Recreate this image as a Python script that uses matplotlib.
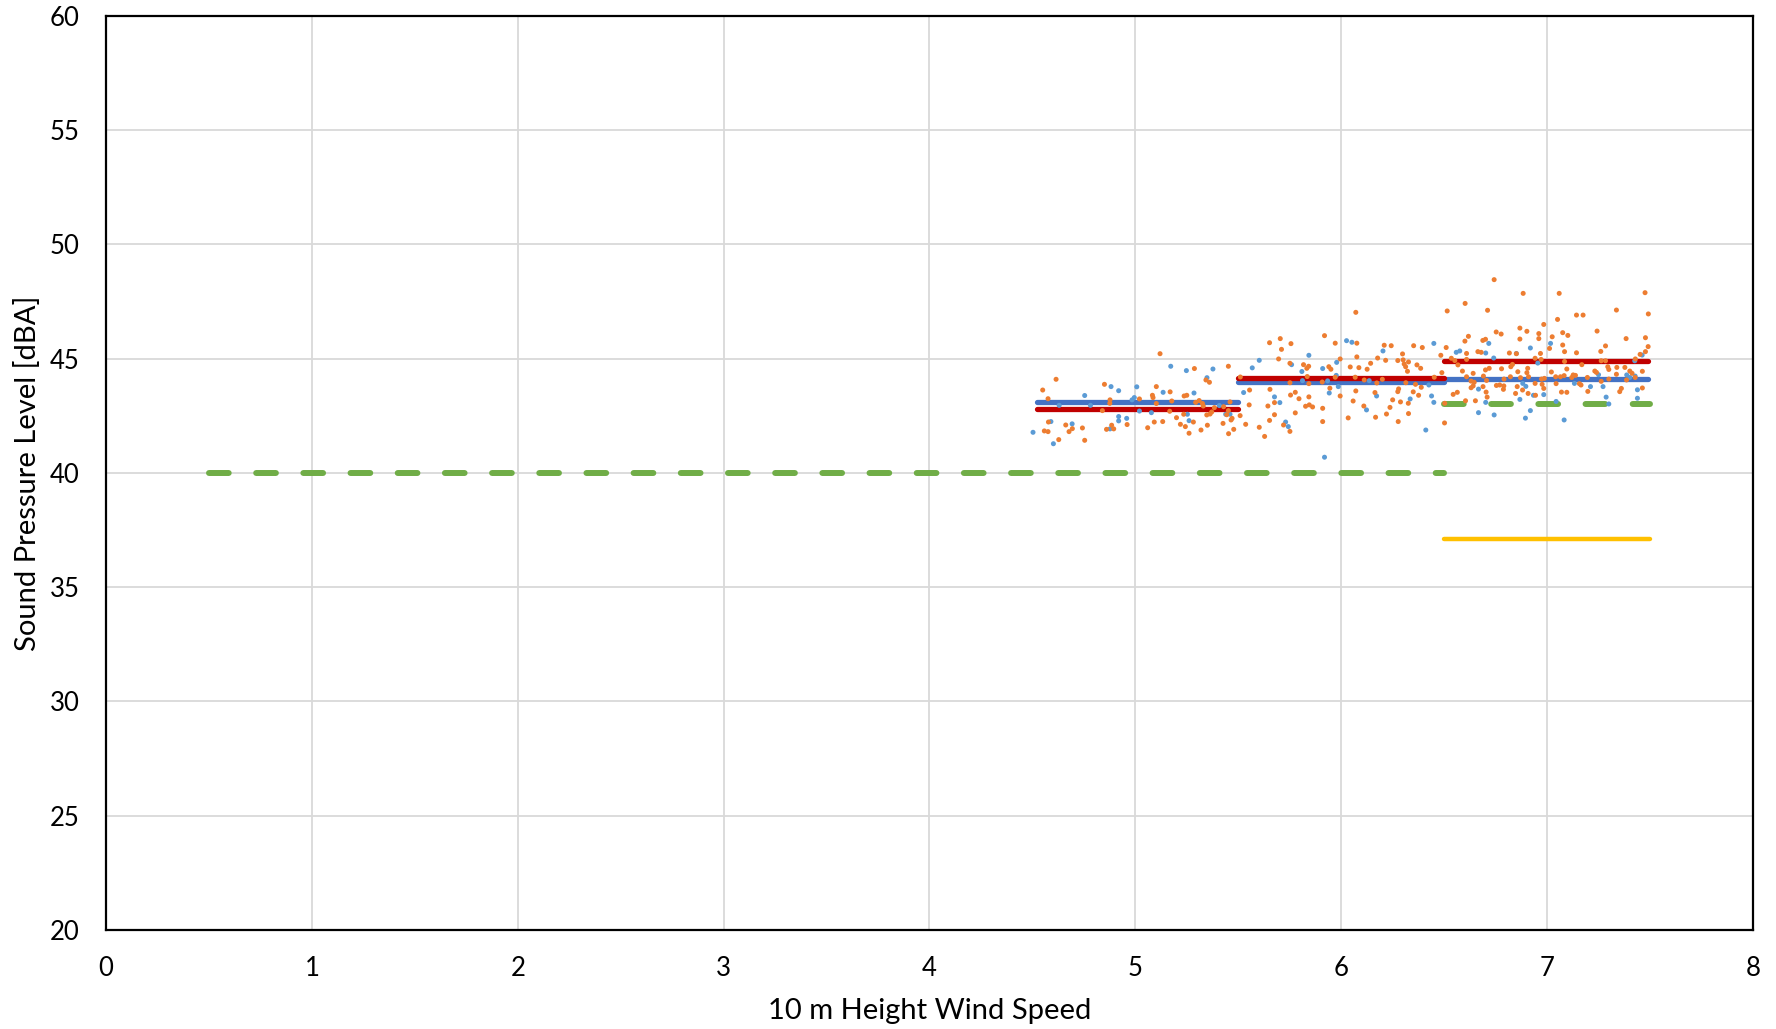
import matplotlib.pyplot as plt

blue_x = [4.503, 4.59, 4.602, 4.63, 4.693, 4.754, 4.782, 4.882, 4.919, 4.919, 4.919, 4.958, 4.877, 4.984,
          4.995, 5.007, 5.02, 5.078, 5.135, 5.172, 5.248, 5.285, 5.253, 5.261, 5.348, 5.377, 5.408, 5.439,
          5.46, 5.526,
          5.568, 5.602, 5.676, 5.702, 5.73, 5.743, 5.759, 5.809, 5.812, 5.843, 5.91, 5.934, 5.942, 5.976,
          5.978, 5.986, 6.026, 6.052, 6.123, 6.136, 6.172, 6.203, 6.335, 6.411, 6.426, 6.439, 6.45, 6.45,
          6.559, 5.919,
          6.576, 6.702, 6.717, 6.741, 6.851, 6.919, 6.955, 7.017, 6.667, 6.702, 6.667, 6.743, 6.868, 6.895,
          6.919, 6.934, 6.984, 6.882, 6.897, 7.044, 7.083, 7.133, 7.211, 7.25, 7.272, 7.287, 7.3, 7.426,
          7.462, 7.387, 7.402, 7.428, 7.439, 7.439]
blue_y = [41.78, 42.25, 41.28, 42.96, 42.15, 43.39, 42.96, 43.78, 43.6, 42.47, 42.28, 42.39, 41.93, 43.2,
          43.3, 43.77, 42.71, 42.64, 43.53, 44.67, 44.48, 43.5, 42.57, 42.29, 44.17, 44.55, 42.95, 42.57,
          42.57, 43.52,
          44.6, 44.93, 43.33, 43.08, 42.23, 42.03, 44.74, 44.44, 44.04, 45.15, 44.57, 44.03, 43.5, 44.27,
          44.84, 43.78, 45.79, 45.72, 42.76, 44.04, 43.37, 45.34, 43.24, 41.88, 43.85, 43.37, 43.09, 45.67,
          45.28, 40.69,
          45.34, 45.25, 45.67, 45.03, 45.23, 45.47, 44.81, 45.67, 43.67, 43.09, 42.64, 42.54, 43.22, 42.4,
          42.73, 43.4, 43.43, 43.92, 43.79, 43.13, 42.32, 43.92, 43.78, 44.3, 43.78, 43.32, 43.02, 44.91,
          45.16, 44.29, 44.18, 44.24, 43.64, 43.27]

orange_x = [5.12, 4.615, 4.55, 4.576, 4.85, 4.877, 4.876, 4.84, 4.578, 4.558, 4.576, 4.628, 4.662, 4.678,
            4.694, 4.743, 4.754, 4.86, 4.885, 4.895, 4.96, 5.102, 5.083, 5.086, 5.102, 5.02, 5.169, 5.177,
            5.167, 5.133, 5.092, 5.06, 5.2, 5.219, 5.243, 5.235, 5.25, 5.237, 5.287, 5.293, 5.31, 5.326,
            5.33, 5.343, 5.36, 5.347, 5.363, 5.371, 5.384, 5.35, 5.319, 5.261, 5.282, 5.429, 5.46, 5.452,
            5.444, 5.465, 5.47, 5.426, 5.478, 5.453, 5.509, 5.536, 5.452, 5.51, 5.555,
            5.553, 5.602, 5.628, 5.652, 5.654, 5.644, 5.652, 5.676, 5.676, 5.696, 5.704, 5.71, 5.756, 5.751,
            5.751, 5.754, 5.777, 5.777, 5.795, 5.72, 5.751, 5.817, 5.833, 5.842, 5.835, 5.843, 5.843, 5.827,
            5.845, 5.861, 5.91, 5.91, 5.919, 5.94, 5.95, 5.908, 5.945, 5.971, 5.971, 5.995, 5.995, 6.034,
            6.044, 6.058, 6.071, 6.076, 6.076, 6.071, 6.086, 6.068, 6.11, 6.112, 6.126, 6.143, 6.164, 6.173,
            6.167, 6.177, 6.2, 6.209, 6.243, 6.216, 6.22, 6.237, 6.25, 6.275, 6.279, 6.275, 6.277, 6.288,
            6.298, 6.301, 6.306, 6.313, 6.322, 6.327, 6.314, 6.326, 6.327, 6.352, 6.35, 6.361, 6.368, 6.376,
            6.386, 6.389, 6.394, 6.452, 6.484, 6.489, 6.502, 6.51, 6.515, 6.535, 6.552, 6.544, 6.567, 6.564,
            6.602, 6.711, 6.743, 6.884, 7.059, 7.143, 7.175, 7.337, 7.476, 7.492, 7.051, 6.984, 6.753, 6.777,
            6.868, 6.902, 6.868, 6.96, 6.96, 7.076, 7.101, 7.243, 7.384, 7.478, 6.618, 6.601, 6.688, 6.701,
            6.664, 6.68, 6.609, 6.609, 6.817, 6.851, 6.968, 6.971, 6.942, 7.012, 7.025, 7.076, 7.085, 7.143,
            7.261, 7.284, 7.478, 7.491, 7.452, 7.429, 7.263, 7.284, 7.085, 7.169, 7.295, 7.3, 7.339, 7.378,
            7.232, 7.24, 7.402, 7.413, 7.463, 6.589, 6.641, 6.701, 6.719, 6.779, 6.824, 6.832, 6.858, 6.906,
            6.902, 7.021, 7.096, 7.127, 6.609, 6.691, 6.706, 6.791, 6.822, 6.871, 6.91, 6.973, 6.987, 7.042,
            7.065, 7.083, 7.12, 7.138, 6.631, 6.631, 6.646, 6.641, 6.689, 6.754, 6.77, 6.79, 6.788, 6.704,
            6.709, 6.652, 6.604, 6.855, 6.881, 6.847, 6.908, 6.944, 6.976, 6.984, 6.942, 7.044, 7.07, 7.096,
            7.157, 7.165, 7.196, 7.198, 7.263, 7.3, 7.337, 7.361, 7.353, 7.386, 7.428, 7.463, 6.503]
orange_y = [45.22, 44.1, 43.63, 43.25, 43.88, 43.2, 43.05, 42.73, 42.23, 41.84, 41.81, 41.46, 42.1, 41.81,
            41.94, 41.97, 41.43, 41.91, 42.09, 41.93, 42.12, 43.78, 43.4, 43.3, 43.04, 43.24, 43.55, 43.15,
            42.7, 42.25, 42.23, 41.98, 42.42, 42.13, 42.03, 42.57, 43.4, 43.37, 44.57, 43.09, 43.17, 43.04,
            42.93, 44.07, 43.97, 42.54, 42.58, 42.67, 42.86, 42.09, 41.88, 41.74, 42.23, 42.9, 43.11, 42.73,
            42.55, 42.32, 42.39, 42.17, 41.91, 41.72, 42.51, 42.13, 44.67, 44.2, 43.63,
            42.98, 42.0, 41.6, 45.7, 43.66, 42.93, 42.3, 42.55, 43.08, 44.99, 45.88, 45.41, 45.66, 44.8,
            43.95, 43.41, 43.53, 42.63, 43.25, 42.1, 41.82, 44.74, 44.58, 44.67, 44.22, 43.91, 43.33, 42.92,
            42.98, 42.89, 42.83, 42.25, 46.01, 44.65, 44.54, 43.98, 43.71, 45.68, 44.19, 44.99, 43.37, 42.41,
            44.64, 43.15, 47.03, 45.68, 45.08, 43.59, 44.61, 44.19, 42.93, 44.07, 44.54, 44.8, 43.52, 43.94,
            42.44, 45.03, 44.1, 45.59, 45.57, 44.93, 42.58, 42.87, 43.2, 44.92, 43.68, 43.56, 42.25, 43.11,
            45.21, 44.95, 44.77, 44.65, 44.45, 44.86, 43.95, 43.05, 42.6, 45.57, 43.55, 43.88, 44.73, 43.4,
            44.58, 43.75, 45.49, 44.19, 45.15, 44.39, 42.19, 45.49, 47.09, 45.02, 44.92, 43.44, 44.73, 43.53,
            47.42, 47.12, 48.46, 47.86, 47.86, 46.91, 46.91, 47.13, 47.89, 46.96, 46.72, 46.5, 46.17, 46.08,
            46.34, 46.2, 45.86, 46.1, 45.88, 46.14, 46.02, 46.21, 45.88, 45.92, 45.98, 45.77, 45.8, 45.85,
            45.31, 45.28, 45.23, 44.97, 45.25, 45.22, 45.23, 44.97, 45.02, 45.45, 45.96, 45.6, 45.31, 45.26,
            45.32, 45.56, 45.31, 45.53, 45.19, 44.99, 44.91, 44.91, 44.88, 44.74, 44.65, 44.53, 44.62, 44.62,
            44.46, 44.4, 44.46, 44.36, 44.45, 44.46, 44.36, 44.51, 44.58, 44.56, 44.65, 44.75, 44.43, 44.58,
            44.39, 44.42, 44.55, 44.29, 44.21, 44.24, 44.05, 44.11, 44.21, 44.17, 44.21, 44.11, 44.14, 44.21,
            44.21, 44.26, 44.18, 44.27, 44.02, 43.73, 43.97, 43.81, 43.78, 43.83, 43.85, 43.81, 43.66, 43.54,
            43.32, 43.16, 43.16, 43.78, 43.63, 43.48, 43.48, 43.4, 43.88, 43.7, 43.92, 43.91, 43.54, 43.53,
            43.91, 43.85, 44.18, 43.57, 44.01, 44.11, 44.32, 43.7, 43.56, 44.07, 44.18, 43.72, 43.05]

# bin levels: (start, end, level)
blue_bins = [(4.52, 5.5, 43.1), (5.5, 6.5, 44.0), (6.5, 7.49, 44.1)]
red_bins = [(4.52, 5.5, 42.8), (5.5, 6.5, 44.15), (6.5, 7.49, 44.9)]
limit_bins = [(0.5, 6.5, 40.0), (6.5, 7.5, 43.0)]
yellow_bins = [(6.5, 7.5, 37.1)]

plt.rcParams['font.family'] = ['Lato', 'DejaVu Sans']

fig = plt.figure(figsize=(17.76, 10.29), dpi=100)
ax = fig.add_axes([0.0597, 0.0962, 0.9273, 0.8883])

ax.grid(True, color='#D9D9D9', linewidth=1.3, zorder=0)
ax.set_axisbelow(True)

for x0, x1, lev in limit_bins:
    ax.plot([x0, x1], [lev, lev], color='#70AD47', linewidth=4.3,
            dashes=(3.3, 4.6), dash_capstyle='round', zorder=2)
for x0, x1, lev in yellow_bins:
    ax.plot([x0, x1], [lev, lev], color='#FFC000', linewidth=3.2,
            solid_capstyle='round', zorder=2)
for x0, x1, lev in blue_bins:
    ax.plot([x0, x1], [lev, lev], color='#4472C4', linewidth=3.8,
            solid_capstyle='round', zorder=2)
for x0, x1, lev in red_bins:
    ax.plot([x0, x1], [lev, lev], color='#C00000', linewidth=3.8,
            solid_capstyle='round', zorder=2)

ax.scatter(blue_x, blue_y, s=13, color='#5B9BD5', edgecolors='none', zorder=3)
ax.scatter(orange_x, orange_y, s=13, color='#ED7D31', edgecolors='none', zorder=4)

ax.set_xlim(0, 8)
ax.set_ylim(20, 60)
ax.set_xticks(range(0, 9))
ax.set_yticks(range(20, 61, 5))
ax.tick_params(length=0, labelsize=18.5, pad=19)
for s in ax.spines.values():
    s.set_linewidth(1.6)
    s.set_color('black')

ax.set_xlabel('10 m Height Wind Speed', fontsize=21, labelpad=12)
ax.set_ylabel('Sound Pressure Level [dBA]', fontsize=21, labelpad=6)

plt.savefig('out.png', dpi=100)
